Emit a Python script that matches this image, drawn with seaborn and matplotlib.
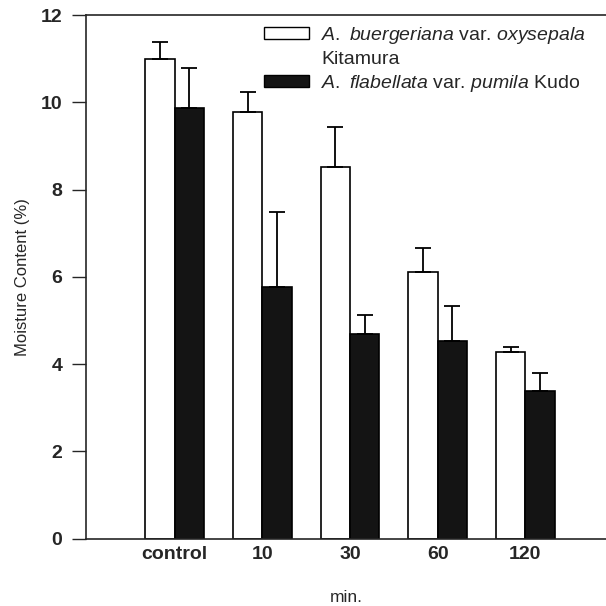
import matplotlib
matplotlib.use("Agg")
import matplotlib.pyplot as plt
import seaborn as sns
import pandas as pd
import numpy as np
from matplotlib.patches import Patch

categories = ["control", "10", "30", "60", "120"]
series_names = ["buergeriana", "flabellata"]
white_vals = [11.0, 9.78, 8.51, 6.10, 4.28]
white_err = [0.37, 0.46, 0.92, 0.56, 0.12]
black_vals = [9.88, 5.77, 4.69, 4.54, 3.39]
black_err = [0.91, 1.72, 0.44, 0.79, 0.41]
yticks = [0, 2, 4, 6, 8, 10, 12]

sns.set_style("ticks")
plt.rcParams["font.family"] = ["Liberation Sans", "DejaVu Sans"]
plt.rcParams["mathtext.fontset"] = "custom"
plt.rcParams["mathtext.rm"] = "Liberation Sans"
plt.rcParams["mathtext.it"] = "Liberation Sans:italic"

df = pd.DataFrame({
    "time": categories * 2,
    "value": white_vals + black_vals,
    "species": [series_names[0]] * 5 + [series_names[1]] * 5,
})

fig = plt.figure(figsize=(6.06, 6.06), dpi=100)
ax = fig.add_axes([86 / 606, 1 - 538.7 / 606, 1 - 86 / 606, (538.7 - 15) / 606])

sns.barplot(data=df, x="time", y="value", hue="species", order=categories,
            hue_order=series_names, palette=["white", "#141414"], width=0.67,
            edgecolor="black", linewidth=1.2, saturation=1, errorbar=None,
            legend=False, ax=ax)

for cont, errs in zip(ax.containers, [white_err, black_err]):
    xs = [p.get_x() + p.get_width() / 2 for p in cont.patches]
    hs = [p.get_height() for p in cont.patches]
    ax.errorbar(xs, hs, yerr=[np.zeros(len(errs)), errs], fmt="none",
                ecolor="black", elinewidth=1.3, capsize=5.5, capthick=1.3, zorder=1)

ax.set_xlim(-1.01, 4.92)
ax.set_ylim(0, 12)
ax.set_yticks(yticks)
ax.tick_params(axis="y", direction="out", length=10, width=1, labelsize=14, pad=7)
ax.tick_params(axis="x", length=0, labelsize=14, pad=5)
for lab in ax.get_xticklabels() + ax.get_yticklabels():
    lab.set_fontweight("bold")
ax.set_ylabel("Moisture Content (%)", fontsize=12, labelpad=8)
ax.set_xlabel("min.", fontsize=12.5, labelpad=20)
for s in ["left", "top", "bottom"]:
    ax.spines[s].set_visible(True)
    ax.spines[s].set_linewidth(1.2)
ax.spines["right"].set_visible(False)

handles = [Patch(facecolor="white", edgecolor="black", linewidth=1),
           Patch(facecolor="none", edgecolor="none"),
           Patch(facecolor="#141414", edgecolor="black", linewidth=1)]
labels = [r"$\it{A.\ buergeriana}$ var. $\it{oxysepala}$",
          "Kitamura",
          r"$\it{A.\ flabellata}$ var. $\it{pumila}$ Kudo"]
ax.legend(handles, labels, loc="upper left", bbox_to_anchor=(264 / 606, 1 - 25 / 606),
          bbox_transform=fig.transFigure, frameon=False, fontsize=14,
          handlelength=2.3, handleheight=0.6, handletextpad=0.65,
          labelspacing=0.25, borderpad=0, borderaxespad=0)

fig.savefig("out.png", dpi=100)
